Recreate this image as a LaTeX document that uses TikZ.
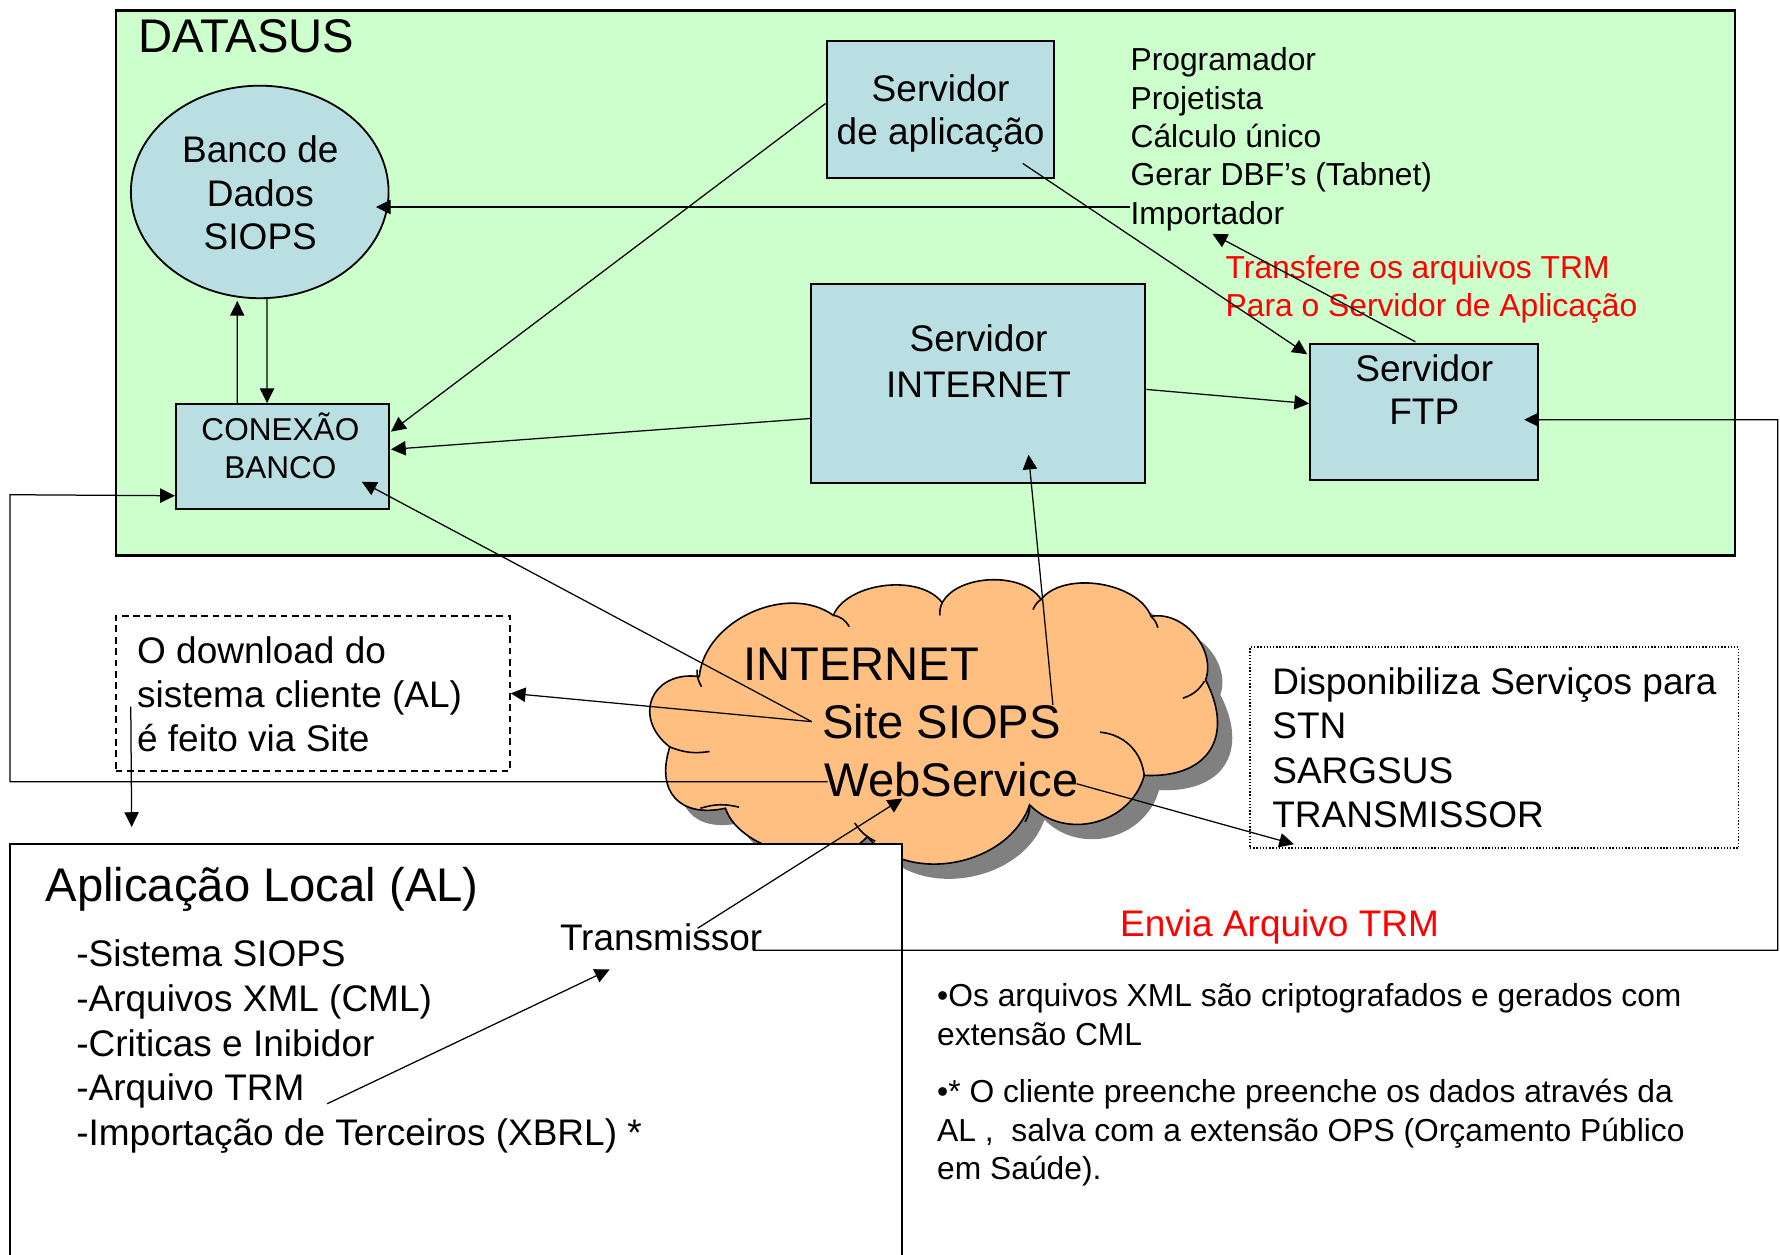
\documentclass[tikz,border=0pt]{standalone}
\usepackage{fontspec}
\setmainfont{Liberation Sans}
\usetikzlibrary{arrows.meta,calc,fit,shapes.geometric}
\definecolor{dsgreen}{RGB}{204,255,204}
\definecolor{srvblue}{RGB}{186,223,227}
\definecolor{cloudor}{RGB}{255,191,128}
\definecolor{shadowgr}{RGB}{128,128,128}
\newcommand\siopscloudpath{(590,-658) to[bend left=75,looseness=1.62] (616,-596)
 to[bend left=60,looseness=0.98] (734,-542)
 to[bend left=60,looseness=0.85] (830,-531)
 to[bend left=60,looseness=0.85] (917,-528)
 to[bend left=60,looseness=0.85] (1014,-543)
 to[bend left=60,looseness=1.0] (1062,-599)
 to[bend left=60,looseness=1.45] (1008,-683)
 to[bend left=60,looseness=1.1] (907,-709)
 to[bend left=60,looseness=1.0] (764,-737)
 to[bend left=60,looseness=0.85] (639,-712)
 to[bend left=60,looseness=1.45] (590,-658) -- cycle}
\begin{document}
\begin{tikzpicture}[x=0.5pt,y=0.5pt,
  bigfont/.style={font=\fontsize{20.8}{25}\selectfont},
  midfont/.style={font=\fontsize{16.3}{19.5}\selectfont},
  smallfont/.style={font=\fontsize{14}{16.9}\selectfont},
  srvbox/.style={draw=black, line width=0.9pt, fill=srvblue, inner sep=0pt},
  arr/.style={-{Triangle[length=6.5pt,width=6.3pt]}, line width=0.55pt},
  txt/.style={inner sep=0pt, align=left, anchor=base west},
  ctxt/.style={inner sep=0pt, align=center, anchor=base},
]
\useasboundingbox (0,0) rectangle (1568,-1105.5);
% (multi-line text nodes are placed by the baseline of their last line)

% DATASUS area
\node[draw=black, line width=1.1pt, fill=dsgreen, inner sep=0pt,
      fit={(102.2,-9.4) (1528.3,-489.2)}] (datasusbox) {};
\node[txt, bigfont] (datasus) at (121.4,-46.6) {DATASUS};

\node[ellipse, draw=black, line width=0.8pt, fill=srvblue, inner sep=0pt,
      minimum width=113.5pt, minimum height=93.6pt] (db) at (228.8,-169.1) {};
\node[ctxt, font=\fontsize{16.3}{19.3}\selectfont] (dbtxt) at (229.3,-220.2) {Banco de\\Dados\\SIOPS};

\node[srvbox, fit={(728.1,-36.2) (928.7,-156.4)}] (app) {};
\node[ctxt, font=\fontsize{16.3}{19.2}\selectfont] (apptxt) at (828.6,-127.4) {Servidor\\de aplicação};

\node[srvbox, fit={(714.7,-250.1) (1008.9,-425.4)}] (inet) {};
\node[ctxt, font=\fontsize{16.3}{19.9}\selectfont] (inettxt) at (862,-349.8) {Servidor\\INTERNET};

\node[srvbox, fit={(1154.1,-302.7) (1354.7,-422.5)}] (ftp) {};
\node[ctxt, font=\fontsize{16.3}{18.9}\selectfont] (ftptxt) at (1254.6,-373.8) {Servidor\\FTP};

\node[srvbox, fit={(155,-356) (342.7,-448.7)}] (conex) {};
\node[ctxt, font=\fontsize{13.9}{16.6}\selectfont] (conextxt) at (247,-421.4) {CONEXÃO\\BANCO};

\node[txt, smallfont] (roles) at (995.5,-197.6)
  {Programador\\Projetista\\Cálculo único\\Gerar DBF’s (Tabnet)\\Importador};
\node[txt, font=\fontsize{14}{16.5}\selectfont, text=red] (trmnote) at (1079.3,-278.4)
  {Transfere os arquivos TRM\\Para o Servidor de Aplicação};

% dashed and dotted boxes
\node[draw=black, line width=0.8pt, dash pattern=on 3pt off 2pt, inner sep=0pt,
      fit={(101.9,-542.3) (449.1,-679.2)}] (dl) {};
\node[txt, font=\fontsize{16.3}{19.45}\selectfont] (dltxt) at (120.4,-662.1) {O download do\\sistema cliente (AL)\\é feito via Site};

\node[draw=black, line width=0.7pt, dash pattern=on 0.6pt off 0.8pt, inner sep=0pt,
      fit={(1101.2,-570) (1531.6,-747)}] (disp) {};
\node[txt, font=\fontsize{16.3}{19.65}\selectfont] (disptxt) at (1120.4,-729.3) {Disponibiliza Serviços para\\STN\\SARGSUS\\TRANSMISSOR};

% cloud
\fill[shadowgr, shift={(13,-13)}] \siopscloudpath;
\filldraw[fill=cloudor, draw=black, line width=0.7pt] \siopscloudpath;
\begin{scope}[line width=0.7pt]
  \draw (614,-590) to[bend right=15] (618,-605);
  \draw (734,-542) to[bend left=25] (748,-552);
  \draw (830,-531) to[bend right=15] (828,-542);
  \draw (917,-528) to[bend right=15] (910,-537);
  \draw (1014,-543) to[bend left=15] (1020,-553);
  \draw (1061,-600) to[bend left=20] (1042,-615);
  \draw (969,-645) to[bend left=40] (1008,-684);
  \draw (907,-709) to[bend left=15] (903,-724);
  \draw (753,-725) to[bend right=15] (771,-741);
  \draw (617,-712) to[bend left=15] (651,-711);
  \draw (590,-658) to[bend right=15] (625,-662);
\end{scope}
\coordinate (cloud) at (820,-640);
\node[txt, bigfont] (internet) at (654.2,-599.6) {INTERNET};
\node[txt, bigfont] (site) at (723.8,-650.4) {Site SIOPS};
\node[txt, bigfont] (ws) at (726,-701.6) {WebService};

% Aplicacao Local box (open at the bottom)
\filldraw[fill=white, draw=black, line width=0.9pt]
  (9.1,-1115) -- (9.1,-743.8) -- (794.9,-743.8) -- (794.9,-1115);
\coordinate (altop) at (116,-743.8);
\node[txt, bigfont] (altitle) at (39.8,-794.1) {Aplicação Local (AL)};
\node[txt, font=\fontsize{16.3}{19.75}\selectfont] (allist) at (66.8,-1009.3)
  {-Sistema SIOPS\\-Arquivos XML (CML)\\-Criticas e Inibidor\\-Arquivo TRM\\-Importação de Terceiros (XBRL) *};
\node[txt, midfont] (trans) at (492.9,-837) {Transmissor};
\node[txt, midfont, text=red] (envia) at (986.4,-824.8) {Envia Arquivo TRM};

\node[txt, font=\fontsize{14}{17.1}\selectfont] (note1) at (825.2,-920.8)
  {•Os arquivos XML são criptografados e gerados com\\extensão CML};
\node[txt, font=\fontsize{14}{16.9}\selectfont] (note2) at (825.2,-1039.1)
  {•* O cliente preenche preenche os dados através da\\AL ,\ \ salva com a extensão OPS (Orçamento Público\\em Saúde).};

% connector end points
\coordinate (impL) at (995.5,-182.4);
\coordinate (impTip) at (1068,-206);
\coordinate (siteL) at (715,-635.7);
\coordinate (wsL) at (729,-688.6);
\coordinate (wsR) at (948.4,-690.4);
\coordinate (lefttop) at (8.8,-435.8);
\coordinate (cloudI) at (927.5,-621);
\coordinate (transTop) at (614.5,-817.7);
\coordinate (wsTip) at (795,-703.4);
\coordinate (trmL) at (288.2,-972.3);
\coordinate (transTip) at (537,-854);
\coordinate (transR) at (663.3,-837);
\coordinate (rightc) at (1566,-369.7);

% connectors
\draw[arr] (impL) -- ($(db.east)+(-12,-13.3)$);
\draw[arr] ($(conex.north)+(-39.9,0)$) -- ($(db.south)+(-19.8,-1.6)$);
\draw[arr] ($(db.south)+(6.5,0)$) -- ($(conex.north)+(-13.6,0)$);
\draw[arr] ($(app.west)+(0,5.1)$) -- ($(conex.east)+(0.8,22.1)$);
\draw[arr] ($(inet.west)+(0,-30.9)$) -- ($(conex.east)+(0.8,6.5)$);
\draw[arr] (siteL) -- ($(conex.center)+(69.8,-22)$);
\draw[arr] (siteL) -- (dl.east);
\draw[arr] (wsL) -| (lefttop) -- ($(conex.south west)+(0,12.9)$);
\draw[arr] ($(dl.west)+(14.1,-11.8)$) -- ($(altop)+(0,15.3)$);
\draw[arr] (cloudI) -- ($(inet.south)+(44.2,25.8)$);
\draw[arr] ($(inet.east)+(0,-5.3)$) -- ($(ftp.west)+(0,7.1)$);
\draw[arr] ($(app.south)+(72.6,13.3)$) -- ($(ftp.north west)+(-1.7,-10.3)$);
\draw[arr] ($(ftp.north)+(-7.6,0.7)$) -- (impTip);
\draw[arr] (wsR) -- ($(disp.south west)+(39.4,4)$);
\draw[arr] (transTop) -- (wsTip);
\draw[arr] (trmL) -- (transTip);
\draw[arr] (transR) -| (rightc) -- ($(ftp.east)+(-13,-7.1)$);
\end{tikzpicture}
\end{document}
